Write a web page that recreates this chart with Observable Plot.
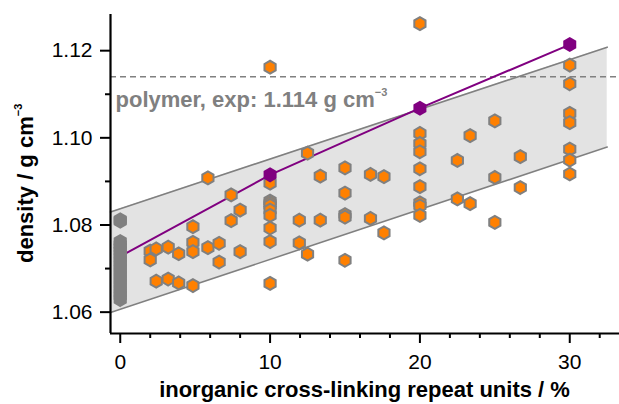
<!DOCTYPE html>
<html>
<head>
<meta charset="utf-8">
<script src="https://cdn.jsdelivr.net/npm/d3@7"></script>
<script src="https://cdn.jsdelivr.net/npm/@observablehq/plot@0.6"></script>
<style>
  html, body { margin: 0; padding: 0; background: #fff; }
  #chart svg { display: block; }
</style>
</head>
<body>
<div id="chart"></div>
<script>
// Simulated samples: inorganic cross-linker content (%) and density (g cm^-3)
const sampleX = [
  2.0, 2.0,
  2.4, 2.4,
  3.2, 3.2,
  3.9, 3.9,
  4.85, 4.85, 4.85, 4.85,
  5.85, 5.85,
  6.6, 6.6,
  7.4, 7.4,
  8.0, 8.0,
  10, 10, 10, 10, 10, 10, 10, 10, 10, 10,
  11.95, 11.95,
  12.5, 12.5,
  13.35, 13.35,
  15, 15, 15, 15, 15,
  16.7, 16.7,
  17.6, 17.6,
  20, 20, 20, 20, 20, 20, 20, 20, 20,
  22.5, 22.5,
  23.35, 23.35,
  25, 25, 25,
  26.7, 26.7,
  30, 30, 30, 30, 30, 30, 30
];
const sampleY = [
  1.0740, 1.0720,
  1.0745, 1.0671,
  1.0749, 1.0676,
  1.0734, 1.0667,
  1.0796, 1.0760, 1.0739, 1.0661,
  1.0908, 1.0748,
  1.0758, 1.0715,
  1.0869, 1.0810,
  1.0834, 1.0739,
  1.1162, 1.0896, 1.0855, 1.0850, 1.0845, 1.0834, 1.0822, 1.0793, 1.0762, 1.0666,
  1.0811, 1.0759,
  1.0965, 1.0733,
  1.0912, 1.0811,
  1.0931, 1.0873, 1.0824, 1.0818, 1.0719,
  1.0916, 1.0815,
  1.0911, 1.0782,
  1.1262, 1.1010, 1.0987, 1.0968, 1.0929, 1.0888, 1.0851, 1.0844, 1.0822,
  1.0948, 1.0860,
  1.1005, 1.0849,
  1.1039, 1.0909, 1.0806,
  1.0957, 1.0886,
  1.1167, 1.1124, 1.1056, 1.1035, 1.0974, 1.0949, 1.0917
];

// Pure polymer (0 %) samples
const polymerY = [
  1.0812, 1.0809,
  1.0762, 1.0755, 1.0748, 1.0741, 1.0733, 1.0725, 1.0716, 1.0708, 1.0699,
  1.0690, 1.0681, 1.0672, 1.0663, 1.0654, 1.0645, 1.0637, 1.0629
];

// Reference structures
const refX = [0, 10, 20, 30];
const refY = [1.0728, 1.0915, 1.1068, 1.1214];

// Spread band of the samples
const bandX = [-0.65, 32.5];
const bandLow = [1.0599, 1.0979];
const bandHigh = [1.0830, 1.1208];

// Experimental polymer density
const polymerDensity = 1.114;

// Axis ticks
const xMajorTicks = [0, 10, 20, 30];
const xMinorTicks = [2, 4, 6, 8, 12, 14, 16, 18, 22, 24, 26, 28, 32];
const yMajorTicks = [1.06, 1.08, 1.10, 1.12];
const yMinorTicks = [1.07, 1.09, 1.11];

const xDomain = [-0.65, 33.32];
const yDomain = [1.0551, 1.1283];

const samples = sampleX.map((x, i) => ({x, y: sampleY[i]}));
const polymer = polymerY.map(y => ({x: 0, y}));
const refs = refX.map((x, i) => ({x, y: refY[i]}));
const band = bandX.map((x, i) => ({x, lo: bandLow[i], hi: bandHigh[i]}));

const grey = "#808080";
const font = "'Liberation Sans', Arial, Helvetica, sans-serif";

const chart = Plot.plot({
  width: 619,
  height: 404,
  marginLeft: 110,
  marginRight: 0,
  marginTop: 14,
  marginBottom: 71,
  style: {fontFamily: font, background: "#fff", color: "#000"},
  x: {domain: xDomain},
  y: {domain: yDomain},
  marks: [
    Plot.areaY(band, {x: "x", y1: "lo", y2: "hi", fill: "#e3e3e3"}),
    Plot.line(band, {x: "x", y: "lo", stroke: grey, strokeWidth: 1.6}),
    Plot.line(band, {x: "x", y: "hi", stroke: grey, strokeWidth: 1.6}),
    Plot.ruleY([polymerDensity], {stroke: grey, strokeWidth: 1.6, strokeDasharray: "6,4"}),
    Plot.text([polymerDensity], {
      x: xDomain[0], y: d => d,
      text: d => `polymer, exp: ${d} g cm^\u22123`,
      textAnchor: "start", lineAnchor: "bottom",
      dx: 5, dy: 30,
      fill: grey, fontSize: 22, fontWeight: "bold"
    }),
    Plot.line(refs, {x: "x", y: "y", stroke: "#800080", strokeWidth: 2}),
    Plot.dot(polymer, {x: "x", y: "y", symbol: "hexagon", r: 5.6, fill: grey, stroke: grey, strokeWidth: 2}),
    Plot.dot(samples, {x: "x", y: "y", symbol: "hexagon", r: 5.6, fill: "#ff8000", stroke: grey, strokeWidth: 2}),
    Plot.dot(refs.filter(d => d.x > 0), {x: "x", y: "y", symbol: "hexagon", r: 6.5, fill: "#800080"}),
    // axes
    Plot.ruleX([xDomain[0]], {stroke: "#000", strokeWidth: 2.2}),
    Plot.ruleY([yDomain[0]], {stroke: "#000", strokeWidth: 2.2}),
    Plot.axisY({ticks: yMajorTicks, tickSize: 10, tickPadding: 8, tickFormat: d3.format(".2f"),
      fontSize: 21, strokeWidth: 2, stroke: "#000", fill: "#000", label: null}),
    Plot.axisY({ticks: yMinorTicks, tickSize: 5, tickFormat: () => "", strokeWidth: 2, stroke: "#000", label: null}),
    Plot.axisX({ticks: xMajorTicks, tickSize: 10, tickPadding: 11, tickFormat: d3.format("d"),
      fontSize: 21, strokeWidth: 2, stroke: "#000", fill: "#000", label: null}),
    Plot.axisX({ticks: xMinorTicks, tickSize: 5, tickFormat: () => "", strokeWidth: 2, stroke: "#000", label: null})
  ]
});

const svg = d3.select(chart);

// Axis titles
svg.append("text")
  .attr("x", (110 + 619) / 2)
  .attr("y", 397)
  .attr("text-anchor", "middle")
  .attr("font-family", font)
  .attr("font-size", 22)
  .attr("font-weight", "bold")
  .attr("fill", "#000")
  .text("inorganic cross-linking repeat units / %");

svg.append("text")
  .attr("transform", "translate(33,263) rotate(-90)")
  .attr("text-anchor", "start")
  .attr("font-family", font)
  .attr("font-size", 22)
  .attr("font-weight", "bold")
  .attr("fill", "#000")
  .text("density / g cm^\u22123");

// Render "^" as a raised, smaller exponent
svg.selectAll("text").each(function() {
  const t = this.textContent;
  const i = t.indexOf("^");
  if (i < 0) return;
  const el = d3.select(this);
  el.text(null);
  el.append("tspan").text(t.slice(0, i));
  el.append("tspan").attr("dy", -11).attr("font-size", 11).text(t.slice(i + 1));
});

document.getElementById("chart").appendChild(chart);
</script>
</body>
</html>
